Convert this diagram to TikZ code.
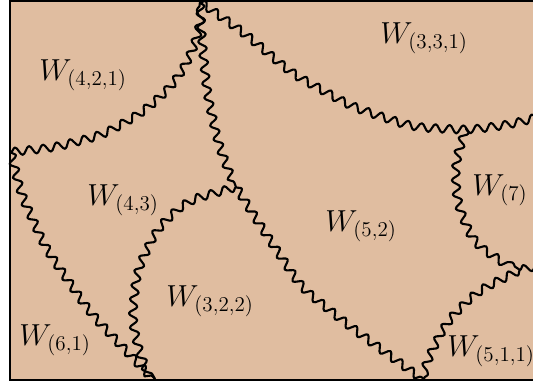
\documentclass[tikz,border=0pt]{standalone}
\usepackage{amsmath,amssymb}
\usepackage{xcolor}
\usepackage{tikz}
\usetikzlibrary{decorations.pathmorphing,calc}
\definecolor{cellfill}{RGB}{224,189,160}
\tikzset{
  wall/.style={draw=black, line width=1.2pt, line join=round,
    decorate, decoration={snake, amplitude=2.3pt, segment length=8pt}},
  frame/.style={draw=black, line width=1.4pt, fill=cellfill},
  cell/.style={anchor=base west, inner sep=0pt, font=\fontsize{17}{20}\selectfont},
}

\begin{document}
\begin{tikzpicture}[x=0.02cm, y=-0.02cm]
\useasboundingbox (0,0) rectangle (533,383);
\clip (0,0) rectangle (533,383);
% ---- frame ----
\path[frame] (10,1) rectangle (560,380);
% ---- junctions ----
\coordinate (ptop) at (200,2);
\coordinate (pleft) at (11,152);
\coordinate (pmid) at (236,187);
\coordinate (peast) at (466,128);
\coordinate (pseven) at (520,270);
\coordinate (pbotl) at (155,379);
\coordinate (pbotr) at (424,379);
\coordinate (prtop) at (560,108);
\coordinate (prbot) at (560,260);
% ---- walls ----
\draw[wall] [rounded corners=8pt] (pleft) -- (50,148) -- (100,135) -- (140,112) -- (170,85) -- (188,55) -- (197,25) -- (ptop) [sharp corners];
\draw[wall] [rounded corners=8pt] (ptop) -- (202,40) -- (207,90) -- (218,140) -- (pmid) [sharp corners];
\draw[wall] [rounded corners=8pt] (ptop) -- (240,30) -- (290,72) -- (350,105) -- (410,125) -- (peast) -- (510,122) -- (prtop) [sharp corners];
\draw[wall] [rounded corners=8pt] (peast) -- (456,160) -- (458,200) -- (475,240) -- (pseven) [sharp corners];
\draw[wall] (pseven) -- (prbot);
\draw[wall] [rounded corners=8pt] (pseven) -- (480,290) -- (450,320) -- (432,355) -- (pbotr) [sharp corners];
\draw[wall] [rounded corners=8pt] (pmid) -- (260,225) -- (300,285) -- (350,325) -- (pbotr) [sharp corners];
\draw[wall] [rounded corners=8pt] (pmid) -- (190,200) -- (160,228) -- (140,270) -- (135,320) -- (145,360) -- (pbotl) [sharp corners];
\draw[wall] [rounded corners=8pt] (pleft) -- (20,190) -- (45,245) -- (90,310) -- (pbotl) [sharp corners];
% ---- labels ----
\node[cell] (w421) at (39,80) {$W_{(4,2,1)}$};
\node[cell] (w331) at (380,43) {$W_{(3,3,1)}$};
\node[cell] (w43) at (87,205) {$W_{(4,3)}$};
\node[cell] (w7) at (472,195) {$W_{(7)}$};
\node[cell] (w52) at (325,231) {$W_{(5,2)}$};
\node[cell] (w322) at (166,306) {$W_{(3,2,2)}$};
\node[cell] (w61) at (19,345) {$W_{(6,1)}$};
\node[cell] (w511) at (447,356) {$W_{(5,1,1)}$};
\end{tikzpicture}
\end{document}
